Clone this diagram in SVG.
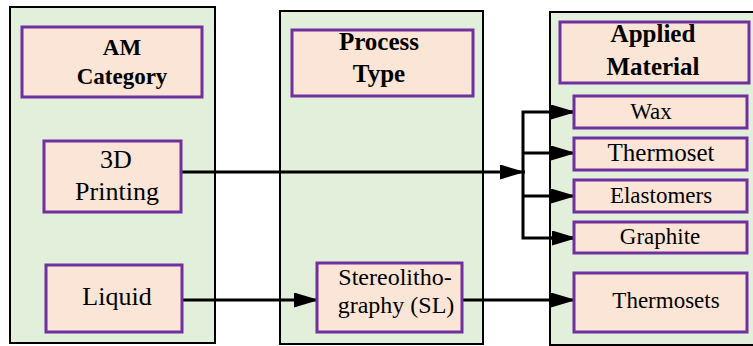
<svg xmlns="http://www.w3.org/2000/svg" width="753" height="346" viewBox="0 0 753 346">
<style>
.panel{fill:#E2EFDA;stroke:#000;stroke-width:2}
.box{fill:#FBE5D6;stroke:#7030A0;stroke-width:3}
text{font-family:'Liberation Serif','Tinos','Times New Roman','DejaVu Serif',serif;fill:#000;text-anchor:middle}
.b{font-weight:bold}
.c{fill:none;stroke:#000;stroke-width:3}
</style>
<defs>
<marker id="ah" markerUnits="userSpaceOnUse" markerWidth="26" markerHeight="16" refX="25" refY="7.5" orient="auto">
<path d="M0,0 L25,7.5 L0,15 z" fill="#000"/>
</marker>
</defs>
<rect width="753" height="346" fill="#fff"/>
<g id="panel-am">
<rect class="panel" x="10" y="7" width="205" height="336"/>
</g>
<g id="panel-process">
<rect class="panel" x="280" y="11" width="203" height="333"/>
</g>
<g id="panel-material">
<rect class="panel" x="550" y="12" width="210" height="333"/>
</g>
<g id="connectors">
<path class="c" d="M181,172 H525" marker-end="url(#ah)"/>
<path class="c" d="M576,112 H523 V238 H577"/>
<path class="c" d="M550,112 H576" marker-end="url(#ah)"/>
<path class="c" d="M523,153 H576" marker-end="url(#ah)"/>
<path class="c" d="M523,196 H576" marker-end="url(#ah)"/>
<path class="c" d="M550,238 H577" marker-end="url(#ah)"/>
<path class="c" d="M182,300 H319" marker-end="url(#ah)"/>
<path class="c" d="M462,300 H576" marker-end="url(#ah)"/>
</g>
<g id="am-category">
<rect class="box" x="22" y="27" width="180" height="70"/>
<text class="b" x="122" y="55" font-size="23">AM</text>
<text class="b" x="122" y="84" font-size="23">Category</text>
</g>
<g id="printing-3d">
<rect class="box" x="44" y="141" width="137" height="71"/>
<text x="116" y="168" font-size="26">3D</text>
<text x="117" y="200" font-size="26">Printing</text>
</g>
<g id="liquid">
<rect class="box" x="46" y="265" width="136" height="67"/>
<text x="117" y="305" font-size="26">Liquid</text>
</g>
<g id="process-type">
<rect class="box" x="292" y="30" width="181" height="66"/>
<text class="b" x="379" y="50" font-size="25">Process</text>
<text class="b" x="379" y="82" font-size="25">Type</text>
</g>
<g id="stereolithography">
<rect class="box" x="317" y="263" width="145" height="69"/>
<text x="395" y="285" font-size="24">Stereolitho-</text>
<text x="396" y="313" font-size="24">graphy (SL)</text>
</g>
<g id="applied-material">
<rect class="box" x="560" y="22" width="189" height="61"/>
<text class="b" x="653" y="42" font-size="25">Applied</text>
<text class="b" x="653" y="75" font-size="25">Material</text>
</g>
<g id="wax">
<rect class="box" x="574" y="96" width="173" height="32"/>
<text x="651" y="119" font-size="23">Wax</text>
</g>
<g id="thermoset">
<rect class="box" x="574" y="138" width="173" height="32"/>
<text x="661" y="161" font-size="25">Thermoset</text>
</g>
<g id="elastomers">
<rect class="box" x="574" y="180" width="173" height="32"/>
<text x="661" y="203" font-size="23">Elastomers</text>
</g>
<g id="graphite">
<rect class="box" x="574" y="222" width="173" height="31"/>
<text x="660" y="244" font-size="23">Graphite</text>
</g>
<g id="thermosets">
<rect class="box" x="574" y="273" width="173" height="59"/>
<text x="666" y="308" font-size="23">Thermosets</text>
</g>
</svg>
